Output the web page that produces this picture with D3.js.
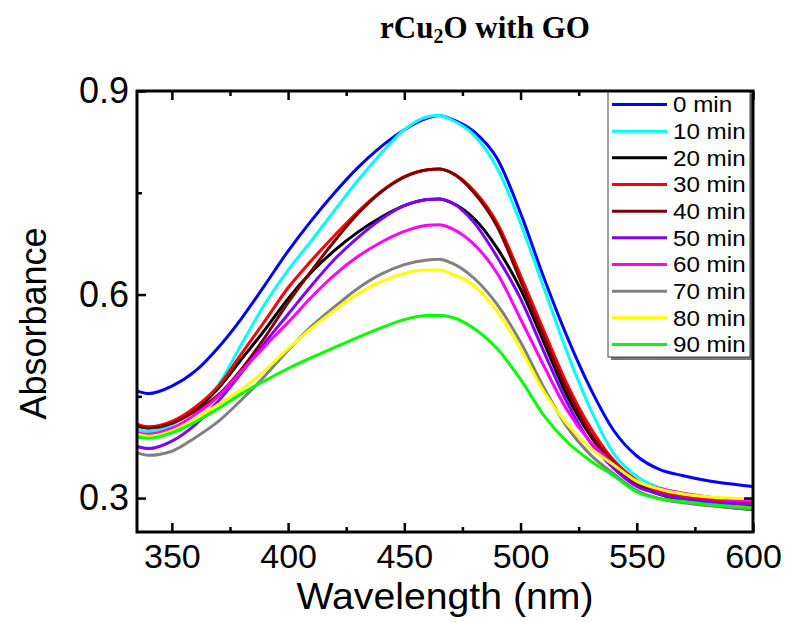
<!DOCTYPE html>
<html>
<head>
<meta charset="utf-8">
<script src="https://cdn.jsdelivr.net/npm/d3@7"></script>
<style>
  body { margin: 0; background: #fff; }
  svg { display: block; font-family: "Liberation Sans", Arial, sans-serif; }
</style>
</head>
<body>
<script>
// wavelength grid (nm) shared by every spectrum
const wavelengths = [335, 340, 350, 360, 370, 380, 390, 400, 410, 420, 430, 440, 450, 460, 465, 470,
    480, 490, 500, 510, 520, 530, 540, 550, 560, 570, 580, 590, 600];

// absorbance, one array per irradiation time
const abs0  = [0.458, 0.454, 0.465, 0.487, 0.522, 0.565, 0.614, 0.664, 0.709, 0.750, 0.787, 0.818, 0.843, 0.860, 0.864, 0.859,
    0.840, 0.800, 0.720, 0.625, 0.538, 0.462, 0.400, 0.362, 0.342, 0.333, 0.326, 0.321, 0.317];
const abs10 = [0.401, 0.398, 0.408, 0.433, 0.467, 0.527, 0.586, 0.636, 0.679, 0.724, 0.768, 0.808, 0.843, 0.862, 0.864, 0.858,
    0.835, 0.786, 0.705, 0.610, 0.515, 0.432, 0.366, 0.332, 0.315, 0.306, 0.301, 0.299, 0.297];
const abs20 = [0.407, 0.404, 0.411, 0.430, 0.462, 0.505, 0.548, 0.594, 0.633, 0.665, 0.692, 0.714, 0.731, 0.740, 0.741, 0.736,
    0.712, 0.668, 0.608, 0.530, 0.451, 0.392, 0.350, 0.320, 0.308, 0.300, 0.295, 0.292, 0.290];
const abs30 = [0.409, 0.405, 0.413, 0.434, 0.465, 0.513, 0.561, 0.610, 0.650, 0.687, 0.722, 0.752, 0.774, 0.784, 0.785, 0.780,
    0.753, 0.705, 0.628, 0.547, 0.468, 0.404, 0.356, 0.326, 0.309, 0.302, 0.298, 0.295, 0.293];
const abs40 = [0.406, 0.403, 0.410, 0.428, 0.452, 0.490, 0.537, 0.588, 0.635, 0.679, 0.719, 0.751, 0.773, 0.784, 0.785, 0.780,
    0.750, 0.700, 0.620, 0.538, 0.460, 0.396, 0.352, 0.322, 0.305, 0.297, 0.291, 0.286, 0.283];
const abs50 = [0.376, 0.373, 0.384, 0.408, 0.443, 0.485, 0.529, 0.571, 0.613, 0.652, 0.684, 0.711, 0.731, 0.740, 0.741, 0.736,
    0.706, 0.655, 0.594, 0.516, 0.441, 0.382, 0.344, 0.317, 0.306, 0.299, 0.295, 0.292, 0.291];
const abs60 = [0.396, 0.394, 0.403, 0.423, 0.450, 0.487, 0.524, 0.559, 0.596, 0.629, 0.656, 0.677, 0.693, 0.702, 0.703, 0.698,
    0.674, 0.631, 0.564, 0.495, 0.430, 0.383, 0.350, 0.324, 0.314, 0.307, 0.302, 0.298, 0.296];
const abs70 = [0.367, 0.363, 0.369, 0.389, 0.413, 0.445, 0.480, 0.518, 0.553, 0.582, 0.609, 0.630, 0.644, 0.651, 0.652, 0.647,
    0.624, 0.585, 0.530, 0.463, 0.405, 0.364, 0.336, 0.311, 0.299, 0.293, 0.289, 0.286, 0.284];
const abs80 = [0.394, 0.391, 0.399, 0.416, 0.438, 0.460, 0.488, 0.520, 0.550, 0.577, 0.601, 0.619, 0.631, 0.636, 0.636, 0.631,
    0.613, 0.575, 0.520, 0.457, 0.409, 0.374, 0.349, 0.325, 0.313, 0.306, 0.302, 0.300, 0.299];
const abs90 = [0.390, 0.388, 0.396, 0.412, 0.432, 0.454, 0.473, 0.491, 0.507, 0.522, 0.537, 0.551, 0.563, 0.569, 0.569, 0.567,
    0.550, 0.520, 0.475, 0.422, 0.383, 0.355, 0.333, 0.309, 0.299, 0.295, 0.291, 0.288, 0.286];

const seriesLabels = ['0 min', '10 min', '20 min', '30 min', '40 min', '50 min', '60 min', '70 min', '80 min', '90 min'];
const seriesColors = ['#0000ff', '#00ffff', '#000000', '#ff0000', '#800000', '#8000ff', '#ff00ff', '#808080', '#ffff00', '#00ff00'];

const xTicks = [350, 400, 450, 500, 550, 600];
const xMinorTicks = [375, 425, 475, 525, 575];
const yTicks = [0.3, 0.6, 0.9];
const yMinorTicks = [0.45, 0.75];

const series = [abs0, abs10, abs20, abs30, abs40, abs50, abs60, abs70, abs80, abs90];

const W = 788, H = 622;
const margin = {top: 91, right: 35, bottom: 90, left: 137},
    width = W - margin.left - margin.right,
    height = H - margin.top - margin.bottom;

const svg = d3.select('body').append('svg')
    .attr('width', W)
    .attr('height', H);

const g = svg.append('g')
    .attr('transform', `translate(${margin.left}, ${margin.top})`);

const xScale = d3.scaleLinear().domain([335, 600]).range([0, width]);
const yScale = d3.scaleLinear().domain([0.25, 0.9]).range([height, 0]);

// curves
const line = d3.line()
    .x(d => xScale(d[0]))
    .y(d => yScale(d[1]))
    .curve(d3.curveMonotoneX);

g.append('g').selectAll('path')
    .data(series)
    .join('path')
    .attr('fill', 'none')
    .attr('stroke', (d, i) => seriesColors[i])
    .attr('stroke-width', 3)
    .attr('stroke-linejoin', 'round')
    .attr('d', d => line(d.map((v, j) => [wavelengths[j], v])));

// ticks point inwards, like the original
const styleAxis = (sel) => {
    sel.select('.domain').remove();
    sel.selectAll('line').attr('stroke', '#000').attr('stroke-width', 2.5);
};

g.append('g')
    .attr('transform', `translate(0, ${height})`)
    .call(d3.axisBottom(xScale).tickValues(xTicks).tickSizeInner(-9).tickSizeOuter(0).tickPadding(12))
    .call(styleAxis)
    .selectAll('text')
    .attr('font-family', '"Liberation Sans", Arial, sans-serif')
    .attr('font-size', 34)
    .attr('fill', '#000');

g.append('g')
    .attr('transform', `translate(0, ${height})`)
    .call(d3.axisBottom(xScale).tickValues(xMinorTicks).tickSize(-5).tickFormat(''))
    .call(styleAxis);

g.append('g')
    .call(d3.axisTop(xScale).tickValues(xTicks).tickSize(-9).tickFormat(''))
    .call(styleAxis);
g.append('g')
    .call(d3.axisTop(xScale).tickValues(xMinorTicks).tickSize(-5).tickFormat(''))
    .call(styleAxis);

g.append('g')
    .call(d3.axisLeft(yScale).tickValues(yTicks).tickSizeInner(-9).tickSizeOuter(0).tickPadding(8)
        .tickFormat(d3.format('.1f')))
    .call(styleAxis)
    .selectAll('text')
    .attr('font-family', '"Liberation Sans", Arial, sans-serif')
    .attr('font-size', 36)
    .attr('fill', '#000');

g.append('g')
    .call(d3.axisLeft(yScale).tickValues(yMinorTicks).tickSize(-5).tickFormat(''))
    .call(styleAxis);

g.append('g')
    .attr('transform', `translate(${width}, 0)`)
    .call(d3.axisRight(yScale).tickValues(yTicks).tickSize(-9).tickFormat(''))
    .call(styleAxis);

// legend
const legend = g.append('g').attr('transform', 'translate(471, 0)');
legend.append('rect')
    .attr('x', 3).attr('y', 3)
    .attr('width', 142).attr('height', 266)
    .attr('fill', '#777');
legend.append('rect')
    .attr('width', 142).attr('height', 266)
    .attr('fill', '#fff')
    .attr('stroke', '#444')
    .attr('stroke-width', 1);

const rows = legend.selectAll('.row')
    .data(seriesLabels)
    .join('g')
    .attr('class', 'row')
    .attr('transform', (d, i) => `translate(0, ${13.5 + i * 26.67})`);
rows.append('line')
    .attr('x1', 4).attr('x2', 59)
    .attr('stroke', (d, i) => seriesColors[i])
    .attr('stroke-width', 3);
rows.append('text')
    .attr('transform', 'translate(65, 0) scale(1.1, 1)')
    .attr('dy', '0.36em')
    .attr('font-size', 22)
    .text(d => d);

// frame
g.append('rect')
    .attr('width', width).attr('height', height)
    .attr('fill', 'none')
    .attr('stroke', '#000')
    .attr('stroke-width', 3);

// axis titles
svg.append('text')
    .attr('transform', `translate(${margin.left + width / 2}, 609) scale(1.06, 1)`)
    .attr('text-anchor', 'middle')
    .attr('font-size', 37)
    .text('Wavelength (nm)');

svg.append('text')
    .attr('transform', `translate(46, ${margin.top + height / 2 + 12}) rotate(-90)`)
    .attr('text-anchor', 'middle')
    .attr('font-size', 36)
    .text('Absorbance');

// title with subscript
const title = svg.append('text')
    .attr('x', 485)
    .attr('y', 38)
    .attr('text-anchor', 'middle')
    .attr('font-family', '"Liberation Serif", "Times New Roman", serif')
    .attr('font-weight', 'bold')
    .attr('font-size', 31);
title.append('tspan').text('rCu');
title.append('tspan').attr('font-size', 20).attr('dy', 5).text('2');
title.append('tspan').attr('dy', -5).text('O with GO');
</script>
</body>
</html>
